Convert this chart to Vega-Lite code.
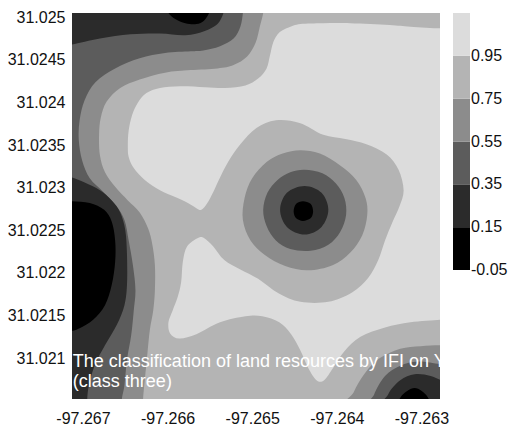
{
"$schema":"https://vega.github.io/schema/vega-lite/v6.json",
"width":368,"height":386,
"padding":{"left":7,"top":9,"right":0,"bottom":0},
"config":{"font":"Liberation Sans","view":{"fill":"#b4b4b4","stroke":null},
"legend":{"gradientLength":257,"gradientThickness":17},
"locale":{"number":{"decimal":".","thousands":",","grouping":[3],"currency":["$",""],"minus":"-"}}},
"layer":[
{"data":{"values":[
{"id":"c5","v":1.05,"k":1,"lon":-97.26266,"lat":31.02488},
{"id":"c5","v":1.05,"k":2,"lon":-97.26278,"lat":31.02487},
{"id":"c5","v":1.05,"k":3,"lon":-97.26313,"lat":31.02489},
{"id":"c5","v":1.05,"k":4,"lon":-97.26338,"lat":31.02491},
{"id":"c5","v":1.05,"k":5,"lon":-97.26384,"lat":31.02493},
{"id":"c5","v":1.05,"k":6,"lon":-97.26416,"lat":31.02493},
{"id":"c5","v":1.05,"k":7,"lon":-97.26443,"lat":31.02492},
{"id":"c5","v":1.05,"k":8,"lon":-97.26457,"lat":31.02488},
{"id":"c5","v":1.05,"k":9,"lon":-97.26468,"lat":31.02482},
{"id":"c5","v":1.05,"k":10,"lon":-97.26475,"lat":31.02471},
{"id":"c5","v":1.05,"k":11,"lon":-97.26479,"lat":31.02455},
{"id":"c5","v":1.05,"k":12,"lon":-97.26483,"lat":31.0244},
{"id":"c5","v":1.05,"k":13,"lon":-97.26493,"lat":31.02428},
{"id":"c5","v":1.05,"k":14,"lon":-97.26508,"lat":31.0242},
{"id":"c5","v":1.05,"k":15,"lon":-97.26532,"lat":31.02417},
{"id":"c5","v":1.05,"k":16,"lon":-97.26556,"lat":31.02418},
{"id":"c5","v":1.05,"k":17,"lon":-97.26585,"lat":31.02419},
{"id":"c5","v":1.05,"k":18,"lon":-97.26609,"lat":31.02417},
{"id":"c5","v":1.05,"k":19,"lon":-97.26625,"lat":31.02411},
{"id":"c5","v":1.05,"k":20,"lon":-97.26635,"lat":31.024},
{"id":"c5","v":1.05,"k":21,"lon":-97.26642,"lat":31.02385},
{"id":"c5","v":1.05,"k":22,"lon":-97.26646,"lat":31.02367},
{"id":"c5","v":1.05,"k":23,"lon":-97.26647,"lat":31.0235},
{"id":"c5","v":1.05,"k":24,"lon":-97.26646,"lat":31.02336},
{"id":"c5","v":1.05,"k":25,"lon":-97.2664,"lat":31.02323},
{"id":"c5","v":1.05,"k":26,"lon":-97.26627,"lat":31.02309},
{"id":"c5","v":1.05,"k":27,"lon":-97.26609,"lat":31.02297},
{"id":"c5","v":1.05,"k":28,"lon":-97.26591,"lat":31.02289},
{"id":"c5","v":1.05,"k":29,"lon":-97.26576,"lat":31.02282},
{"id":"c5","v":1.05,"k":30,"lon":-97.26566,"lat":31.02276},
{"id":"c5","v":1.05,"k":31,"lon":-97.2656,"lat":31.02274},
{"id":"c5","v":1.05,"k":32,"lon":-97.26553,"lat":31.02282},
{"id":"c5","v":1.05,"k":33,"lon":-97.26546,"lat":31.02295},
{"id":"c5","v":1.05,"k":34,"lon":-97.26538,"lat":31.02312},
{"id":"c5","v":1.05,"k":35,"lon":-97.26528,"lat":31.02331},
{"id":"c5","v":1.05,"k":36,"lon":-97.26514,"lat":31.02351},
{"id":"c5","v":1.05,"k":37,"lon":-97.26495,"lat":31.0237},
{"id":"c5","v":1.05,"k":38,"lon":-97.26472,"lat":31.02379},
{"id":"c5","v":1.05,"k":39,"lon":-97.26444,"lat":31.02376},
{"id":"c5","v":1.05,"k":40,"lon":-97.26416,"lat":31.02362},
{"id":"c5","v":1.05,"k":41,"lon":-97.2639,"lat":31.02357},
{"id":"c5","v":1.05,"k":42,"lon":-97.26365,"lat":31.02351},
{"id":"c5","v":1.05,"k":43,"lon":-97.26341,"lat":31.02339},
{"id":"c5","v":1.05,"k":44,"lon":-97.26327,"lat":31.02321},
{"id":"c5","v":1.05,"k":45,"lon":-97.26321,"lat":31.02297},
{"id":"c5","v":1.05,"k":46,"lon":-97.26326,"lat":31.02278},
{"id":"c5","v":1.05,"k":47,"lon":-97.26334,"lat":31.0226},
{"id":"c5","v":1.05,"k":48,"lon":-97.26343,"lat":31.02238},
{"id":"c5","v":1.05,"k":49,"lon":-97.26351,"lat":31.02215},
{"id":"c5","v":1.05,"k":50,"lon":-97.26363,"lat":31.02194},
{"id":"c5","v":1.05,"k":51,"lon":-97.26382,"lat":31.02177},
{"id":"c5","v":1.05,"k":52,"lon":-97.2641,"lat":31.02166},
{"id":"c5","v":1.05,"k":53,"lon":-97.26443,"lat":31.02166},
{"id":"c5","v":1.05,"k":54,"lon":-97.26469,"lat":31.02176},
{"id":"c5","v":1.05,"k":55,"lon":-97.26493,"lat":31.02193},
{"id":"c5","v":1.05,"k":56,"lon":-97.26514,"lat":31.02204},
{"id":"c5","v":1.05,"k":57,"lon":-97.26533,"lat":31.02215},
{"id":"c5","v":1.05,"k":58,"lon":-97.26546,"lat":31.02231},
{"id":"c5","v":1.05,"k":59,"lon":-97.26557,"lat":31.02241},
{"id":"c5","v":1.05,"k":60,"lon":-97.26564,"lat":31.02241},
{"id":"c5","v":1.05,"k":61,"lon":-97.26577,"lat":31.02231},
{"id":"c5","v":1.05,"k":62,"lon":-97.26582,"lat":31.02213},
{"id":"c5","v":1.05,"k":63,"lon":-97.26584,"lat":31.02189},
{"id":"c5","v":1.05,"k":64,"lon":-97.26588,"lat":31.02172},
{"id":"c5","v":1.05,"k":65,"lon":-97.26594,"lat":31.02156},
{"id":"c5","v":1.05,"k":66,"lon":-97.26599,"lat":31.02142},
{"id":"c5","v":1.05,"k":67,"lon":-97.26597,"lat":31.02129},
{"id":"c5","v":1.05,"k":68,"lon":-97.26586,"lat":31.02123},
{"id":"c5","v":1.05,"k":69,"lon":-97.26566,"lat":31.02128},
{"id":"c5","v":1.05,"k":70,"lon":-97.26538,"lat":31.02142},
{"id":"c5","v":1.05,"k":71,"lon":-97.26508,"lat":31.02149},
{"id":"c5","v":1.05,"k":72,"lon":-97.26488,"lat":31.02149},
{"id":"c5","v":1.05,"k":73,"lon":-97.26468,"lat":31.02142},
{"id":"c5","v":1.05,"k":74,"lon":-97.26454,"lat":31.02128},
{"id":"c5","v":1.05,"k":75,"lon":-97.26443,"lat":31.02109},
{"id":"c5","v":1.05,"k":76,"lon":-97.26434,"lat":31.02089},
{"id":"c5","v":1.05,"k":77,"lon":-97.26424,"lat":31.02074},
{"id":"c5","v":1.05,"k":78,"lon":-97.26415,"lat":31.02074},
{"id":"c5","v":1.05,"k":79,"lon":-97.26404,"lat":31.02089},
{"id":"c5","v":1.05,"k":80,"lon":-97.26391,"lat":31.02108},
{"id":"c5","v":1.05,"k":81,"lon":-97.26372,"lat":31.02125},
{"id":"c5","v":1.05,"k":82,"lon":-97.26343,"lat":31.02136},
{"id":"c5","v":1.05,"k":83,"lon":-97.26313,"lat":31.02142},
{"id":"c5","v":1.05,"k":84,"lon":-97.26278,"lat":31.02145},
{"id":"c5","v":1.05,"k":85,"lon":-97.26266,"lat":31.02145},
{"id":"c3a","v":0.65,"k":1,"lon":-97.26487,"lat":31.02514},
{"id":"c3a","v":0.65,"k":2,"lon":-97.26487,"lat":31.02505},
{"id":"c3a","v":0.65,"k":3,"lon":-97.26491,"lat":31.02489},
{"id":"c3a","v":0.65,"k":4,"lon":-97.26496,"lat":31.0247},
{"id":"c3a","v":0.65,"k":5,"lon":-97.26506,"lat":31.02454},
{"id":"c3a","v":0.65,"k":6,"lon":-97.26522,"lat":31.02444},
{"id":"c3a","v":0.65,"k":7,"lon":-97.26541,"lat":31.0244},
{"id":"c3a","v":0.65,"k":8,"lon":-97.26573,"lat":31.02438},
{"id":"c3a","v":0.65,"k":9,"lon":-97.26603,"lat":31.02435},
{"id":"c3a","v":0.65,"k":10,"lon":-97.26633,"lat":31.02427},
{"id":"c3a","v":0.65,"k":11,"lon":-97.26656,"lat":31.02417},
{"id":"c3a","v":0.65,"k":12,"lon":-97.26672,"lat":31.02401},
{"id":"c3a","v":0.65,"k":13,"lon":-97.26679,"lat":31.02382},
{"id":"c3a","v":0.65,"k":14,"lon":-97.26681,"lat":31.02362},
{"id":"c3a","v":0.65,"k":15,"lon":-97.2668,"lat":31.02338},
{"id":"c3a","v":0.65,"k":16,"lon":-97.26674,"lat":31.02318},
{"id":"c3a","v":0.65,"k":17,"lon":-97.26662,"lat":31.02301},
{"id":"c3a","v":0.65,"k":18,"lon":-97.26647,"lat":31.02285},
{"id":"c3a","v":0.65,"k":19,"lon":-97.26633,"lat":31.02271},
{"id":"c3a","v":0.65,"k":20,"lon":-97.26623,"lat":31.02252},
{"id":"c3a","v":0.65,"k":21,"lon":-97.26618,"lat":31.02233},
{"id":"c3a","v":0.65,"k":22,"lon":-97.26615,"lat":31.02209},
{"id":"c3a","v":0.65,"k":23,"lon":-97.26615,"lat":31.0218},
{"id":"c3a","v":0.65,"k":24,"lon":-97.26617,"lat":31.02156},
{"id":"c3a","v":0.65,"k":25,"lon":-97.26621,"lat":31.02133},
{"id":"c3a","v":0.65,"k":26,"lon":-97.26624,"lat":31.02104},
{"id":"c3a","v":0.65,"k":27,"lon":-97.26627,"lat":31.02074},
{"id":"c3a","v":0.65,"k":28,"lon":-97.26629,"lat":31.02052},
{"id":"c3a","v":0.65,"k":29,"lon":-97.26629,"lat":31.02039},
{"id":"c3a","v":0.65,"k":30,"lon":-97.26727,"lat":31.02039},
{"id":"c3a","v":0.65,"k":31,"lon":-97.26727,"lat":31.02514},
{"id":"c3b","v":0.65,"k":1,"lon":-97.26443,"lat":31.02344},
{"id":"c3b","v":0.65,"k":2,"lon":-97.2642,"lat":31.0234},
{"id":"c3b","v":0.65,"k":3,"lon":-97.26396,"lat":31.02326},
{"id":"c3b","v":0.65,"k":4,"lon":-97.26377,"lat":31.02309},
{"id":"c3b","v":0.65,"k":5,"lon":-97.26366,"lat":31.02288},
{"id":"c3b","v":0.65,"k":6,"lon":-97.26364,"lat":31.02268},
{"id":"c3b","v":0.65,"k":7,"lon":-97.2637,"lat":31.02244},
{"id":"c3b","v":0.65,"k":8,"lon":-97.26384,"lat":31.02224},
{"id":"c3b","v":0.65,"k":9,"lon":-97.26405,"lat":31.02209},
{"id":"c3b","v":0.65,"k":10,"lon":-97.26434,"lat":31.02203},
{"id":"c3b","v":0.65,"k":11,"lon":-97.26461,"lat":31.02208},
{"id":"c3b","v":0.65,"k":12,"lon":-97.26485,"lat":31.02221},
{"id":"c3b","v":0.65,"k":13,"lon":-97.26502,"lat":31.02238},
{"id":"c3b","v":0.65,"k":14,"lon":-97.26511,"lat":31.02262},
{"id":"c3b","v":0.65,"k":15,"lon":-97.26509,"lat":31.02288},
{"id":"c3b","v":0.65,"k":16,"lon":-97.265,"lat":31.02311},
{"id":"c3b","v":0.65,"k":17,"lon":-97.26483,"lat":31.0233},
{"id":"c3b","v":0.65,"k":18,"lon":-97.26464,"lat":31.0234},
{"id":"c3c","v":0.65,"k":1,"lon":-97.26386,"lat":31.02039},
{"id":"c3c","v":0.65,"k":2,"lon":-97.2638,"lat":31.0206},
{"id":"c3c","v":0.65,"k":3,"lon":-97.26367,"lat":31.02082},
{"id":"c3c","v":0.65,"k":4,"lon":-97.26349,"lat":31.021},
{"id":"c3c","v":0.65,"k":5,"lon":-97.26325,"lat":31.02111},
{"id":"c3c","v":0.65,"k":6,"lon":-97.26301,"lat":31.02114},
{"id":"c3c","v":0.65,"k":7,"lon":-97.26278,"lat":31.02115},
{"id":"c3c","v":0.65,"k":8,"lon":-97.2626,"lat":31.02115},
{"id":"c3c","v":0.65,"k":9,"lon":-97.2626,"lat":31.02039},
{"id":"c2a","v":0.45,"k":1,"lon":-97.26511,"lat":31.02514},
{"id":"c2a","v":0.45,"k":2,"lon":-97.26511,"lat":31.02505},
{"id":"c2a","v":0.45,"k":3,"lon":-97.26514,"lat":31.02489},
{"id":"c2a","v":0.45,"k":4,"lon":-97.26522,"lat":31.02475},
{"id":"c2a","v":0.45,"k":5,"lon":-97.26538,"lat":31.02466},
{"id":"c2a","v":0.45,"k":6,"lon":-97.26558,"lat":31.02461},
{"id":"c2a","v":0.45,"k":7,"lon":-97.26573,"lat":31.0246},
{"id":"c2a","v":0.45,"k":8,"lon":-97.26603,"lat":31.02458},
{"id":"c2a","v":0.45,"k":9,"lon":-97.26633,"lat":31.02452},
{"id":"c2a","v":0.45,"k":10,"lon":-97.26662,"lat":31.0244},
{"id":"c2a","v":0.45,"k":11,"lon":-97.26685,"lat":31.02424},
{"id":"c2a","v":0.45,"k":12,"lon":-97.26698,"lat":31.02403},
{"id":"c2a","v":0.45,"k":13,"lon":-97.26704,"lat":31.02379},
{"id":"c2a","v":0.45,"k":14,"lon":-97.26705,"lat":31.02356},
{"id":"c2a","v":0.45,"k":15,"lon":-97.26701,"lat":31.02332},
{"id":"c2a","v":0.45,"k":16,"lon":-97.26692,"lat":31.02311},
{"id":"c2a","v":0.45,"k":17,"lon":-97.26676,"lat":31.02295},
{"id":"c2a","v":0.45,"k":18,"lon":-97.26661,"lat":31.02279},
{"id":"c2a","v":0.45,"k":19,"lon":-97.26651,"lat":31.02262},
{"id":"c2a","v":0.45,"k":20,"lon":-97.26646,"lat":31.02238},
{"id":"c2a","v":0.45,"k":21,"lon":-97.26641,"lat":31.02209},
{"id":"c2a","v":0.45,"k":22,"lon":-97.26638,"lat":31.0218},
{"id":"c2a","v":0.45,"k":23,"lon":-97.2664,"lat":31.02156},
{"id":"c2a","v":0.45,"k":24,"lon":-97.26643,"lat":31.02127},
{"id":"c2a","v":0.45,"k":25,"lon":-97.26648,"lat":31.02098},
{"id":"c2a","v":0.45,"k":26,"lon":-97.26651,"lat":31.02068},
{"id":"c2a","v":0.45,"k":27,"lon":-97.26654,"lat":31.02052},
{"id":"c2a","v":0.45,"k":28,"lon":-97.26654,"lat":31.02039},
{"id":"c2a","v":0.45,"k":29,"lon":-97.26727,"lat":31.02039},
{"id":"c2a","v":0.45,"k":30,"lon":-97.26727,"lat":31.02514},
{"id":"c2b","v":0.45,"k":1,"lon":-97.26438,"lat":31.02321},
{"id":"c2b","v":0.45,"k":2,"lon":-97.26417,"lat":31.02317},
{"id":"c2b","v":0.45,"k":3,"lon":-97.26401,"lat":31.02305},
{"id":"c2b","v":0.45,"k":4,"lon":-97.26391,"lat":31.02288},
{"id":"c2b","v":0.45,"k":5,"lon":-97.26389,"lat":31.02268},
{"id":"c2b","v":0.45,"k":6,"lon":-97.26396,"lat":31.02248},
{"id":"c2b","v":0.45,"k":7,"lon":-97.2641,"lat":31.02233},
{"id":"c2b","v":0.45,"k":8,"lon":-97.26431,"lat":31.02226},
{"id":"c2b","v":0.45,"k":9,"lon":-97.26455,"lat":31.02228},
{"id":"c2b","v":0.45,"k":10,"lon":-97.26472,"lat":31.02238},
{"id":"c2b","v":0.45,"k":11,"lon":-97.26483,"lat":31.02255},
{"id":"c2b","v":0.45,"k":12,"lon":-97.26487,"lat":31.02274},
{"id":"c2b","v":0.45,"k":13,"lon":-97.26482,"lat":31.02294},
{"id":"c2b","v":0.45,"k":14,"lon":-97.2647,"lat":31.02309},
{"id":"c2b","v":0.45,"k":15,"lon":-97.26455,"lat":31.02318},
{"id":"c2c","v":0.45,"k":1,"lon":-97.2636,"lat":31.02039},
{"id":"c2c","v":0.45,"k":2,"lon":-97.26356,"lat":31.02057},
{"id":"c2c","v":0.45,"k":3,"lon":-97.26343,"lat":31.02079},
{"id":"c2c","v":0.45,"k":4,"lon":-97.26325,"lat":31.02091},
{"id":"c2c","v":0.45,"k":5,"lon":-97.26304,"lat":31.02096},
{"id":"c2c","v":0.45,"k":6,"lon":-97.26278,"lat":31.02093},
{"id":"c2c","v":0.45,"k":7,"lon":-97.2626,"lat":31.02091},
{"id":"c2c","v":0.45,"k":8,"lon":-97.2626,"lat":31.02039},
{"id":"c1a","v":0.25,"k":1,"lon":-97.26727,"lat":31.02514},
{"id":"c1a","v":0.25,"k":2,"lon":-97.26727,"lat":31.02468},
{"id":"c1a","v":0.25,"k":3,"lon":-97.26713,"lat":31.02468},
{"id":"c1a","v":0.25,"k":4,"lon":-97.2668,"lat":31.02475},
{"id":"c1a","v":0.25,"k":5,"lon":-97.26644,"lat":31.0248},
{"id":"c1a","v":0.25,"k":6,"lon":-97.26609,"lat":31.02481},
{"id":"c1a","v":0.25,"k":7,"lon":-97.26579,"lat":31.02479},
{"id":"c1a","v":0.25,"k":8,"lon":-97.26556,"lat":31.02484},
{"id":"c1a","v":0.25,"k":9,"lon":-97.26541,"lat":31.02492},
{"id":"c1a","v":0.25,"k":10,"lon":-97.26534,"lat":31.02505},
{"id":"c1a","v":0.25,"k":11,"lon":-97.26533,"lat":31.02514},
{"id":"c1b","v":0.25,"k":1,"lon":-97.26727,"lat":31.02313},
{"id":"c1b","v":0.25,"k":2,"lon":-97.26713,"lat":31.02312},
{"id":"c1b","v":0.25,"k":3,"lon":-97.26698,"lat":31.02306},
{"id":"c1b","v":0.25,"k":4,"lon":-97.2668,"lat":31.02297},
{"id":"c1b","v":0.25,"k":5,"lon":-97.26666,"lat":31.02285},
{"id":"c1b","v":0.25,"k":6,"lon":-97.26656,"lat":31.02271},
{"id":"c1b","v":0.25,"k":7,"lon":-97.2665,"lat":31.0225},
{"id":"c1b","v":0.25,"k":8,"lon":-97.26648,"lat":31.02221},
{"id":"c1b","v":0.25,"k":9,"lon":-97.26648,"lat":31.02186},
{"id":"c1b","v":0.25,"k":10,"lon":-97.26651,"lat":31.02162},
{"id":"c1b","v":0.25,"k":11,"lon":-97.2666,"lat":31.02139},
{"id":"c1b","v":0.25,"k":12,"lon":-97.26674,"lat":31.02115},
{"id":"c1b","v":0.25,"k":13,"lon":-97.26686,"lat":31.02092},
{"id":"c1b","v":0.25,"k":14,"lon":-97.26693,"lat":31.02068},
{"id":"c1b","v":0.25,"k":15,"lon":-97.26695,"lat":31.02052},
{"id":"c1b","v":0.25,"k":16,"lon":-97.26695,"lat":31.02039},
{"id":"c1b","v":0.25,"k":17,"lon":-97.26727,"lat":31.02039},
{"id":"c1c","v":0.25,"k":1,"lon":-97.26438,"lat":31.02302},
{"id":"c1c","v":0.25,"k":2,"lon":-97.26418,"lat":31.02294},
{"id":"c1c","v":0.25,"k":3,"lon":-97.2641,"lat":31.02274},
{"id":"c1c","v":0.25,"k":4,"lon":-97.26418,"lat":31.02254},
{"id":"c1c","v":0.25,"k":5,"lon":-97.26438,"lat":31.02245},
{"id":"c1c","v":0.25,"k":6,"lon":-97.26459,"lat":31.02254},
{"id":"c1c","v":0.25,"k":7,"lon":-97.26467,"lat":31.02274},
{"id":"c1c","v":0.25,"k":8,"lon":-97.26459,"lat":31.02294},
{"id":"c1d","v":0.25,"k":1,"lon":-97.26343,"lat":31.02039},
{"id":"c1d","v":0.25,"k":2,"lon":-97.26339,"lat":31.02058},
{"id":"c1d","v":0.25,"k":3,"lon":-97.26325,"lat":31.02074},
{"id":"c1d","v":0.25,"k":4,"lon":-97.26308,"lat":31.02081},
{"id":"c1d","v":0.25,"k":5,"lon":-97.26289,"lat":31.02079},
{"id":"c1d","v":0.25,"k":6,"lon":-97.26272,"lat":31.02072},
{"id":"c1d","v":0.25,"k":7,"lon":-97.2626,"lat":31.0207},
{"id":"c1d","v":0.25,"k":8,"lon":-97.2626,"lat":31.02039},
{"id":"c0a","v":0.05,"k":1,"lon":-97.26603,"lat":31.02514},
{"id":"c0a","v":0.05,"k":2,"lon":-97.26599,"lat":31.02505},
{"id":"c0a","v":0.05,"k":3,"lon":-97.26591,"lat":31.02498},
{"id":"c0a","v":0.05,"k":4,"lon":-97.26579,"lat":31.02493},
{"id":"c0a","v":0.05,"k":5,"lon":-97.26566,"lat":31.02492},
{"id":"c0a","v":0.05,"k":6,"lon":-97.26557,"lat":31.02496},
{"id":"c0a","v":0.05,"k":7,"lon":-97.26551,"lat":31.02505},
{"id":"c0a","v":0.05,"k":8,"lon":-97.26549,"lat":31.02514},
{"id":"c0b","v":0.05,"k":1,"lon":-97.26727,"lat":31.02285},
{"id":"c0b","v":0.05,"k":2,"lon":-97.26713,"lat":31.02284},
{"id":"c0b","v":0.05,"k":3,"lon":-97.26692,"lat":31.02282},
{"id":"c0b","v":0.05,"k":4,"lon":-97.26675,"lat":31.02274},
{"id":"c0b","v":0.05,"k":5,"lon":-97.26666,"lat":31.0226},
{"id":"c0b","v":0.05,"k":6,"lon":-97.26662,"lat":31.02238},
{"id":"c0b","v":0.05,"k":7,"lon":-97.26662,"lat":31.02213},
{"id":"c0b","v":0.05,"k":8,"lon":-97.26666,"lat":31.02186},
{"id":"c0b","v":0.05,"k":9,"lon":-97.26674,"lat":31.02162},
{"id":"c0b","v":0.05,"k":10,"lon":-97.26688,"lat":31.02145},
{"id":"c0b","v":0.05,"k":11,"lon":-97.26704,"lat":31.02135},
{"id":"c0b","v":0.05,"k":12,"lon":-97.26713,"lat":31.02132},
{"id":"c0b","v":0.05,"k":13,"lon":-97.26727,"lat":31.02132},
{"id":"c0c","v":0.05,"k":1,"lon":-97.2644,"lat":31.02284},
{"id":"c0c","v":0.05,"k":2,"lon":-97.26431,"lat":31.02281},
{"id":"c0c","v":0.05,"k":3,"lon":-97.26428,"lat":31.02272},
{"id":"c0c","v":0.05,"k":4,"lon":-97.26431,"lat":31.02264},
{"id":"c0c","v":0.05,"k":5,"lon":-97.2644,"lat":31.02261},
{"id":"c0c","v":0.05,"k":6,"lon":-97.26448,"lat":31.02264},
{"id":"c0c","v":0.05,"k":7,"lon":-97.26451,"lat":31.02272},
{"id":"c0c","v":0.05,"k":8,"lon":-97.26448,"lat":31.02281},
{"id":"c0d","v":0.05,"k":1,"lon":-97.26326,"lat":31.02039},
{"id":"c0d","v":0.05,"k":2,"lon":-97.26324,"lat":31.02055},
{"id":"c0d","v":0.05,"k":3,"lon":-97.26308,"lat":31.02065},
{"id":"c0d","v":0.05,"k":4,"lon":-97.26293,"lat":31.02055},
{"id":"c0d","v":0.05,"k":5,"lon":-97.26291,"lat":31.02039}
]},
"encoding":{
"x":{"field":"lon","type":"quantitative","title":null,
"scale":{"domain":[-97.26713,-97.26278],"nice":false,"zero":false},
"axis":{"values":[-97.267,-97.266,-97.265,-97.264,-97.263],"format":".3f","domain":false,"ticks":false,"grid":false,"labelFontSize":16,"labelPadding":11,"labelColor":"#111111","labelFlush":false}},
"y":{"field":"lat","type":"quantitative","title":null,
"scale":{"domain":[31.02052,31.02505],"nice":false,"zero":false},
"axis":{"values":[31.021,31.0215,31.022,31.0225,31.023,31.0235,31.024,31.0245,31.025],"format":".4~f","domain":false,"ticks":false,"grid":false,"labelFontSize":16,"labelPadding":7,"labelColor":"#111111","labelFlush":false}},
"fill":{"field":"v","type":"quantitative",
"scale":{"type":"quantize","domain":[-0.05,1.15],"range":["#000000","#2b2b2b","#5c5c5c","#8c8c8c","#b4b4b4","#dcdcdc"]},
"legend":{"title":null,"orient":"right","offset":13,"padding":0,"type":"gradient","gradientLength":257,"gradientThickness":17,"gradientStrokeWidth":0,"labelFontSize":16,"labelOffset":1,"labelColor":"#111111","format":".2f","labelOverlap":false,
"labelExpr":"abs(datum.value - 0.15) < 0.01 ? ['0.15', '-0.05'] : (datum.value > 1.1 ? '' : datum.label)",
"encode":{"labels":{"update":{"lineHeight":{"value":42.8}}}}}},
"order":{"field":"k","type":"quantitative"},
"detail":{"field":"id","type":"nominal"}},
"layer":[
{"transform":[{"filter":{"field":"v","equal":1.05}}],"mark":{"type":"line","interpolate":"cardinal-closed","clip":true,"strokeWidth":0,"strokeOpacity":0}},
{"transform":[{"filter":{"field":"v","equal":0.65}}],"mark":{"type":"line","interpolate":"cardinal-closed","clip":true,"strokeWidth":0,"strokeOpacity":0}},
{"transform":[{"filter":{"field":"v","equal":0.45}}],"mark":{"type":"line","interpolate":"cardinal-closed","clip":true,"strokeWidth":0,"strokeOpacity":0}},
{"transform":[{"filter":{"field":"v","equal":0.25}}],"mark":{"type":"line","interpolate":"cardinal-closed","clip":true,"strokeWidth":0,"strokeOpacity":0}},
{"transform":[{"filter":{"field":"v","equal":0.05}}],"mark":{"type":"line","interpolate":"cardinal-closed","clip":true,"strokeWidth":0,"strokeOpacity":0}}
]},
{"data":{"values":[{}]},
"mark":{"type":"text","text":["The classification of land resources by IFI on Y","(class three)"],"align":"left","baseline":"alphabetic","fontSize":18,"lineHeight":19.5,"color":"#ffffff","clip":true},
"encoding":{"x":{"datum":-97.26712},"y":{"datum":31.02089}}}
]
}
